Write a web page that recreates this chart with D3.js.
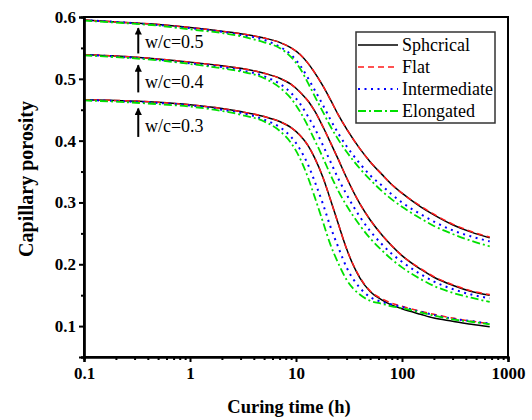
<!DOCTYPE html>
<html>
<head>
<meta charset="utf-8">
<script src="https://cdn.jsdelivr.net/npm/d3@7"></script>
<style>
  body { margin: 0; background: #fff; }
  svg { display: block; }
  text { font-family: "Times New Roman", "Liberation Serif", serif; }
</style>
</head>
<body>
<svg id="chart" width="532" height="420"></svg>
<script>
// ---------- data ----------
const times = [0.1, 0.2, 0.5, 1, 2, 3, 5, 7, 9, 11, 13, 15, 18, 21, 25, 30, 40, 50, 65, 80, 100, 150, 200, 300, 450, 672];

// w/c = 0.5
const wc05_spherical    = [0.595,0.592,0.588,0.583,0.577,0.573,0.566,0.559,0.550,0.539,0.525,0.510,0.488,0.467,0.442,0.419,0.387,0.366,0.345,0.329,0.315,0.293,0.280,0.264,0.252,0.243];
const wc05_flat         = [0.595,0.592,0.588,0.583,0.577,0.573,0.566,0.559,0.550,0.539,0.525,0.510,0.488,0.467,0.442,0.419,0.387,0.366,0.345,0.329,0.315,0.294,0.281,0.265,0.253,0.244];
const wc05_intermediate = [0.595,0.592,0.587,0.582,0.576,0.571,0.563,0.552,0.539,0.521,0.501,0.482,0.457,0.435,0.412,0.391,0.363,0.344,0.327,0.313,0.300,0.281,0.269,0.255,0.245,0.237];
const wc05_elongated    = [0.594,0.591,0.586,0.580,0.574,0.569,0.559,0.550,0.535,0.516,0.493,0.472,0.446,0.424,0.402,0.382,0.355,0.337,0.318,0.305,0.293,0.274,0.262,0.249,0.238,0.229];

// w/c = 0.4
const wc04_spherical    = [0.539,0.537,0.532,0.527,0.521,0.517,0.509,0.501,0.491,0.478,0.464,0.448,0.422,0.398,0.370,0.340,0.298,0.272,0.247,0.230,0.214,0.192,0.179,0.166,0.156,0.150];
const wc04_flat         = [0.539,0.537,0.532,0.527,0.521,0.517,0.509,0.501,0.491,0.478,0.464,0.448,0.422,0.398,0.370,0.340,0.298,0.272,0.247,0.230,0.214,0.193,0.180,0.167,0.157,0.151];
const wc04_intermediate = [0.539,0.536,0.531,0.525,0.519,0.514,0.504,0.492,0.477,0.459,0.439,0.420,0.392,0.367,0.339,0.313,0.277,0.254,0.232,0.217,0.204,0.184,0.172,0.160,0.151,0.145];
const wc04_elongated    = [0.538,0.535,0.530,0.524,0.517,0.512,0.501,0.486,0.468,0.446,0.423,0.401,0.372,0.346,0.319,0.295,0.263,0.242,0.222,0.208,0.195,0.176,0.165,0.154,0.146,0.139];

// w/c = 0.3
const wc03_spherical    = [0.466,0.465,0.462,0.458,0.452,0.447,0.439,0.431,0.421,0.408,0.392,0.372,0.340,0.306,0.266,0.225,0.178,0.156,0.142,0.134,0.128,0.119,0.113,0.108,0.103,0.099];
const wc03_flat         = [0.466,0.465,0.462,0.458,0.452,0.447,0.439,0.431,0.421,0.408,0.392,0.372,0.340,0.306,0.266,0.225,0.179,0.157,0.144,0.137,0.132,0.124,0.119,0.113,0.108,0.104];
const wc03_intermediate = [0.466,0.464,0.461,0.457,0.450,0.445,0.434,0.422,0.406,0.385,0.361,0.334,0.297,0.262,0.228,0.195,0.162,0.147,0.139,0.135,0.131,0.123,0.118,0.112,0.108,0.104];
const wc03_elongated    = [0.465,0.463,0.459,0.455,0.448,0.442,0.431,0.416,0.396,0.370,0.340,0.309,0.268,0.233,0.202,0.175,0.151,0.141,0.136,0.132,0.129,0.122,0.117,0.111,0.107,0.103];

const seriesNames = ["Sphcrical", "Flat", "Intermediate", "Elongated"];
const xTickValues = [0.1, 1, 10, 100, 1000];
const xTickLabels = ["0.1", "1", "10", "100", "1000"];
const yTickValues = [0.1, 0.2, 0.3, 0.4, 0.5, 0.6];
const yTickLabels = ["0.1", "0.2", "0.3", "0.4", "0.5", "0.6"];
const annotationLabels = ["w/c=0.5", "w/c=0.4", "w/c=0.3"];
const annotationArrowTop = [0.582, 0.522, 0.452];
const annotationArrowBottom = [0.541, 0.478, 0.406];
const annotationTextY = [0.5495, 0.4845, 0.414];

// ---------- styles ----------
const styles = [
  { color: "#000000", width: 1.5, dash: null },
  { color: "#ff1a1a", width: 1.5, dash: "6,4" },
  { color: "#0000ff", width: 2.0, dash: "2,4.5" },
  { color: "#00e000", width: 1.8, dash: "8,3,2,3" }
];

const groups = [
  [wc05_spherical, wc05_flat, wc05_intermediate, wc05_elongated],
  [wc04_spherical, wc04_flat, wc04_intermediate, wc04_elongated],
  [wc03_spherical, wc03_flat, wc03_intermediate, wc03_elongated]
];

// ---------- layout ----------
const L = 84, R = 508, T = 17, B = 357;
const svg = d3.select("#chart");
svg.append("rect").attr("width", 532).attr("height", 420).attr("fill", "#fff");

const x = d3.scaleLog().domain([0.1, 1000]).range([L, R]);
const y = d3.scaleLinear().domain([0.05, 0.6]).range([B, T]);

// lines
const line = d3.line().x(d => x(d[0])).y(d => y(d[1])).curve(d3.curveMonotoneX);
const plot = svg.append("g");
for (let s = 0; s < 4; s++) {
  groups.forEach(g => {
    const pts = times.map((t, i) => [t, g[s][i]]);
    plot.append("path")
      .attr("d", line(pts))
      .attr("fill", "none")
      .attr("stroke", styles[s].color)
      .attr("stroke-width", styles[s].width)
      .attr("stroke-dasharray", styles[s].dash);
  });
}

// frame
svg.append("rect").attr("x", L).attr("y", T).attr("width", R - L).attr("height", B - T)
  .attr("fill", "none").attr("stroke", "#000").attr("stroke-width", 2);

// x axis
const xMinor = [];
for (let d = 0.1; d < 1000; d *= 10) for (let k = 2; k <= 9; k++) xMinor.push(+(d * k).toPrecision(3));
const xAxisMajor = svg.append("g").attr("transform", `translate(0,${B})`)
  .call(d3.axisBottom(x).tickValues(xTickValues).tickFormat((d, i) => xTickLabels[i]).tickSize(5).tickPadding(5));
const xAxisMinor = svg.append("g").attr("transform", `translate(0,${B})`)
  .call(d3.axisBottom(x).tickValues(xMinor).tickFormat("").tickSize(3));

// y axis
const yMinor = [0.05, 0.15, 0.25, 0.35, 0.45, 0.55];
const yAxisMajor = svg.append("g").attr("transform", `translate(${L},0)`)
  .call(d3.axisLeft(y).tickValues(yTickValues).tickFormat((d, i) => yTickLabels[i]).tickSize(5).tickPadding(3));
const yAxisMinor = svg.append("g").attr("transform", `translate(${L},0)`)
  .call(d3.axisLeft(y).tickValues(yMinor).tickFormat("").tickSize(3));

[xAxisMajor, xAxisMinor, yAxisMajor, yAxisMinor].forEach(a => {
  a.select(".domain").attr("stroke", "#000").attr("stroke-width", 2.2);
  a.selectAll(".tick line").attr("stroke", "#000").attr("stroke-width", 2);
  a.selectAll(".tick text").attr("fill", "#000")
    .style("font-family", "'Times New Roman','Liberation Serif',serif")
    .style("font-weight", "bold").style("font-size", "17px");
});

// axis titles
svg.append("text").attr("x", 289).attr("y", 413).attr("text-anchor", "middle")
  .style("font-weight", "bold").style("font-size", "18.5px").text("Curing time (h)");
svg.append("text").attr("transform", "translate(33,179) rotate(-90)").attr("text-anchor", "middle")
  .style("font-weight", "bold").style("font-size", "20px").text("Capillary porosity");

// annotations with arrows
svg.append("defs").append("marker").attr("id", "ah").attr("viewBox", "0 0 10 10")
  .attr("refX", 9).attr("refY", 5).attr("markerWidth", 4.5).attr("markerHeight", 3.6)
  .attr("markerUnits", "strokeWidth").attr("orient", "auto")
  .append("path").attr("d", "M0,0 L10,5 L0,10 z").attr("fill", "#000");
const arrowT = 0.325, textT = 0.376;
annotationLabels.forEach((lab, i) => {
  svg.append("line").attr("x1", x(arrowT)).attr("x2", x(arrowT))
    .attr("y1", y(annotationArrowBottom[i])).attr("y2", y(annotationArrowTop[i]))
    .attr("stroke", "#000").attr("stroke-width", 2).attr("marker-end", "url(#ah)");
  svg.append("text").attr("x", x(textT)).attr("y", y(annotationTextY[i]))
    .style("font-size", "18px").text(lab);
});

// legend
const lg = svg.append("g");
lg.append("rect").attr("x", 356).attr("y", 32).attr("width", 139).attr("height", 91)
  .attr("fill", "#fff").attr("stroke", "#333").attr("stroke-width", 1.5);
seriesNames.forEach((n, i) => {
  const yy = 45 + i * 22;
  lg.append("line").attr("x1", 358).attr("x2", 398).attr("y1", yy).attr("y2", yy)
    .attr("stroke", styles[i].color).attr("stroke-width", styles[i].width)
    .attr("stroke-dasharray", styles[i].dash);
  lg.append("text").attr("x", 402).attr("y", yy + 6).style("font-size", "18px").text(n);
});
</script>
</body>
</html>
